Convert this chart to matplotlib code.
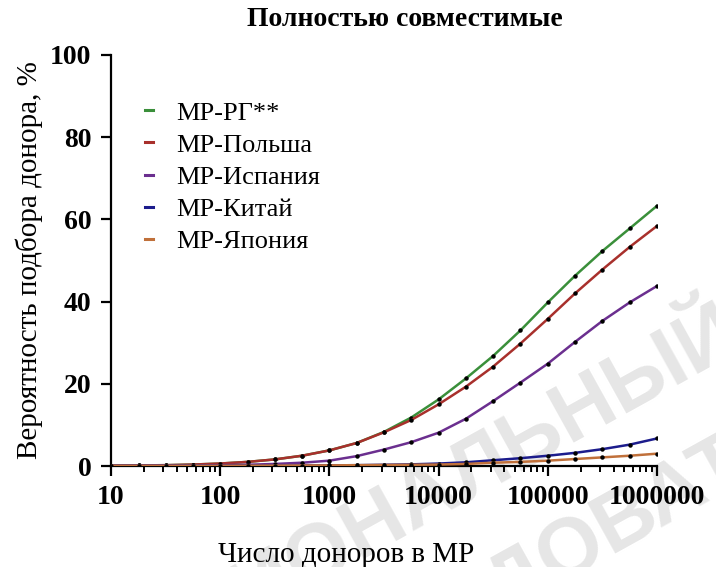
import matplotlib
matplotlib.use("Agg")
import matplotlib.pyplot as plt
from matplotlib.ticker import LogLocator, FixedLocator, NullFormatter

# Registry size (number of donors)
donors = [10, 18, 32, 56, 100, 178, 316, 562, 1000, 1778, 3162, 5623,
          10000, 17783, 31623, 56234, 100000, 177828, 316228, 562341, 1000000]

# Probability of finding a fully matched donor, %
rg = [0.1, 0.15, 0.2, 0.35, 0.6, 1.0, 1.6, 2.5, 3.8, 5.6, 8.3, 11.8,
      16.2, 21.3, 26.8, 33.0, 39.8, 46.3, 52.3, 57.8, 63.3]
poland = [0.1, 0.15, 0.2, 0.35, 0.6, 1.0, 1.6, 2.5, 3.8, 5.6, 8.2, 11.2,
          15.0, 19.3, 24.2, 29.8, 35.8, 42.0, 47.8, 53.3, 58.4]
spain = [0.05, 0.07, 0.1, 0.15, 0.2, 0.3, 0.5, 0.8, 1.3, 2.4, 4.0, 5.8,
         8.1, 11.5, 15.8, 20.3, 24.9, 30.2, 35.3, 39.8, 43.8]
china = [0.05, 0.05, 0.05, 0.05, 0.05, 0.07, 0.1, 0.12, 0.15, 0.2, 0.3, 0.4,
         0.6, 0.9, 1.4, 1.9, 2.5, 3.2, 4.1, 5.2, 6.7]
japan = [0.05, 0.05, 0.05, 0.05, 0.05, 0.07, 0.1, 0.12, 0.15, 0.2, 0.25, 0.3,
         0.35, 0.5, 0.8, 1.0, 1.3, 1.7, 2.1, 2.5, 3.0]

series_labels = ["МР-РГ**", "МР-Польша", "МР-Испания", "МР-Китай", "МР-Япония"]
series_colors = ["#3a8f3a", "#a8302c", "#6b2f8f", "#1c1c8c", "#c0703a"]

y_ticks = [0, 20, 40, 60, 80, 100]
x_ticks = [10, 100, 1000, 10000, 100000, 1000000]
x_ticklabels = ["10", "100", "1000", "10000", "100000", "1000000"]

serif = ["Liberation Serif", "DejaVu Serif"]

fig = plt.figure(figsize=(7.16, 5.67), dpi=100)
fig.patch.set_facecolor("white")

# Faint background watermark
wm = dict(family=["Liberation Sans", "DejaVu Sans"], weight="bold",
          color="#e6e6e6", rotation=29, ha="center", va="center",
          rotation_mode="anchor", fontsize=60, zorder=-5)
fig.text(404 / 716, 1 - 500 / 567, "НАЦИОНАЛЬНЫЙ", **wm)
fig.text(662 / 716, 1 - 491 / 567, "ИССЛЕДОВАТЕЛЬСКИЙ", **wm)

ax = fig.add_axes([111 / 716, 1 - 466 / 567, 546 / 716, 411 / 567])
ax.patch.set_alpha(0)

for vals, lab, col in zip([rg, poland, spain, china, japan],
                          series_labels, series_colors):
    ax.plot(donors, vals, color=col, lw=1.8, label=lab,
            marker="o", markersize=2.2, markerfacecolor="black",
            markeredgecolor="black", zorder=3)

ax.set_xscale("log")
ax.set_xlim(10, 1000000)
ax.set_ylim(0, 100)
ax.xaxis.set_major_locator(FixedLocator(x_ticks))
ax.set_xticklabels(x_ticklabels)
ax.xaxis.set_minor_locator(LogLocator(base=10, subs=range(2, 10), numticks=20))
ax.xaxis.set_minor_formatter(NullFormatter())
ax.set_yticks(y_ticks)

for s in ["top", "right"]:
    ax.spines[s].set_visible(False)
for s in ["left", "bottom"]:
    ax.spines[s].set_linewidth(1.6)
    ax.spines[s].set_color("black")

ax.tick_params(axis="both", which="major", direction="out", width=1.6,
               length=7, labelsize=20, pad=7)
ax.tick_params(axis="x", which="minor", direction="out", width=1.4, length=4)
for t in ax.get_xticklabels() + ax.get_yticklabels():
    t.set_fontfamily(serif)
    t.set_fontweight("bold")

ax.set_xlabel("Число доноров в МР", fontsize=21, family=serif)
ax.xaxis.set_label_coords(0.43, -0.185)
ax.set_ylabel("Вероятность подбора донора, %", fontsize=21, family=serif,
              labelpad=5)
fig.text(0.566, 1 - 20 / 567, "Полностью совместимые", fontsize=20,
         family=serif, weight="bold", ha="center", va="center")

leg = ax.legend(loc="upper left", bbox_to_anchor=(0.062, 0.888), frameon=False,
                handlelength=0.3, handletextpad=0.9, labelspacing=0.33,
                borderpad=0, borderaxespad=0,
                prop={"family": serif, "size": 19})
for h in leg.get_lines():
    h.set_marker("")
    h.set_linewidth(2.2)

fig.savefig("out.png", dpi=100, facecolor="white")
